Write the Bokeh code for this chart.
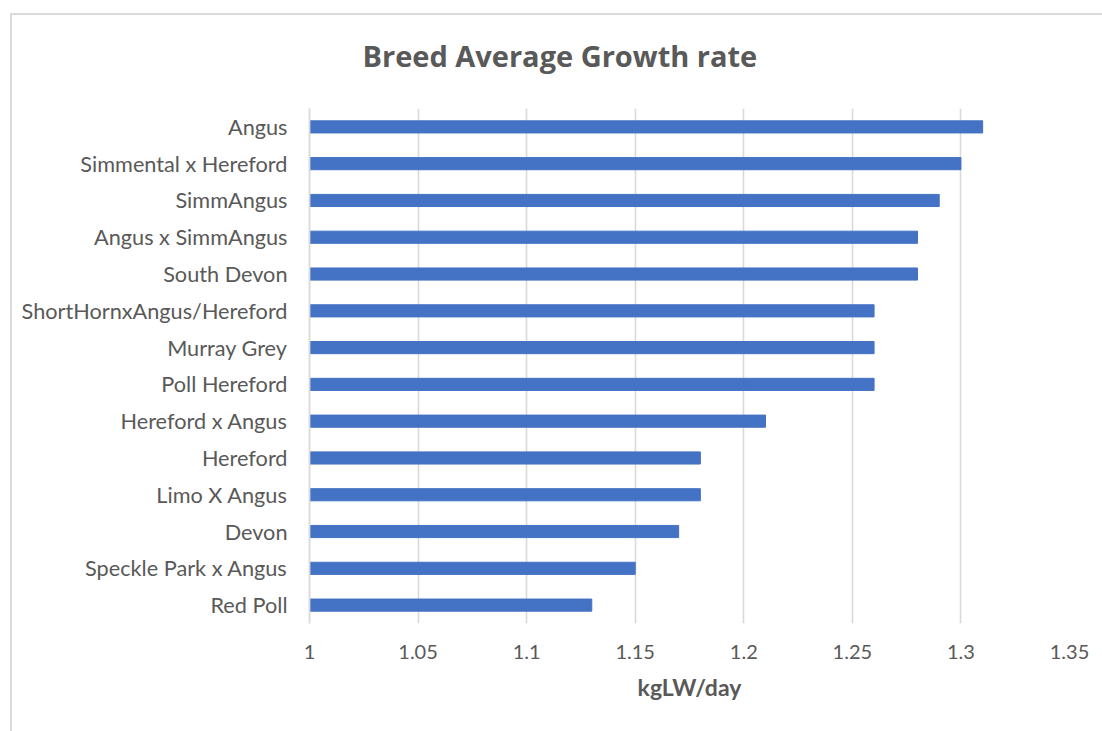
from bokeh.plotting import figure
from bokeh.models import Range1d, FixedTicker, Title
from bokeh.embed import file_html
from bokeh.resources import INLINE

breeds = ["Angus", "Simmental x Hereford", "SimmAngus", "Angus x SimmAngus", "South Devon",
          "ShortHornxAngus/Hereford", "Murray Grey", "Poll Hereford", "Hereford x Angus",
          "Hereford", "Limo X Angus", "Devon", "Speckle Park x Angus", "Red Poll"]
growth = [1.31, 1.30, 1.29, 1.28, 1.28, 1.26, 1.26, 1.26, 1.21, 1.18, 1.18, 1.17, 1.15, 1.13]
x_ticks = [1.0, 1.05, 1.1, 1.15, 1.2, 1.25, 1.3, 1.35]
title_text = "Breed Average Growth rate"
x_label = "kgLW/day"
page_text = "14 breeds recorded in the 2024 steer trial - but on average how did they perform?"

FONT = "Lato"
TITLE_FONT = "Open Sans"
GREY = "#595959"
BOX = "#d9d9d9"

W, H = 1102, 731
SHIFT = 40                      # canvas is shifted up, so the page line is cut by the window top
FL, FR, FT, FB = 309, 1069, 108, 623

pos = list(range(len(breeds)))

p = figure(width=W, height=H + SHIFT, output_backend="svg", toolbar_location=None, title=None,
           y_range=Range1d(len(breeds) - 0.5, -0.5),
           x_range=Range1d(1.0, 1.35),
           min_border_left=FL, min_border_right=W - FR,
           min_border_top=FT + SHIFT, min_border_bottom=H - FB)
p.outline_line_color = None
p.background_fill_color = None
p.border_fill_color = None
p.styles = {
    "margin-top": f"-{SHIFT}px",
    "background": (f"linear-gradient({BOX},{BOX}) 10px {13 + SHIFT}px / 2px 100% no-repeat, "
                   f"linear-gradient({BOX},{BOX}) 10px {13 + SHIFT}px / 100% 2px no-repeat, #ffffff"),
}

p.hbar(y=pos, right=growth, left=1.0, height=0.33, color="#4472C4")

p.xgrid.ticker = FixedTicker(ticks=x_ticks)
p.xgrid.grid_line_color = BOX
p.xgrid.grid_line_width = 1.6
p.ygrid.grid_line_color = None

xa = p.xaxis[0]
xa.ticker = FixedTicker(ticks=x_ticks)
xa.axis_line_color = None
xa.major_tick_line_color = None
xa.minor_tick_line_color = None
xa.major_tick_out = 0
xa.major_label_standoff = 21
xa.major_label_text_font = FONT
xa.major_label_text_font_size = "20px"
xa.major_label_text_color = GREY
xa.axis_label = x_label
xa.axis_label_text_font = FONT
xa.axis_label_text_font_style = "bold"
xa.axis_label_text_font_size = "23px"
xa.axis_label_text_color = GREY
xa.axis_label_standoff = 11

ya = p.yaxis[0]
ya.ticker = FixedTicker(ticks=pos)
ya.major_label_overrides = {i: b for i, b in zip(pos, breeds)}
ya.axis_line_color = BOX
ya.axis_line_width = 1.8
ya.major_tick_line_color = None
ya.minor_tick_line_color = None
ya.major_tick_out = 0
ya.major_label_standoff = 22
ya.major_label_text_font = FONT
ya.major_label_text_font_size = "21.7px"
ya.major_label_text_color = GREY

main_title = Title(text=title_text, align="left", offset=362 - FL,
                   standoff=68, text_font=TITLE_FONT, text_font_style="bold",
                   text_font_size="29px", text_color=GREY)
p.add_layout(main_title, "above")

page_title = Title(text=page_text, align="left", offset=-2 - FL, standoff=0,
                   text_font=FONT, text_font_style="normal", text_font_size="28.5px",
                   text_color="#1a1a1a")
p.add_layout(page_title, "above")

open("out.html", "w").write(file_html(p, INLINE))
